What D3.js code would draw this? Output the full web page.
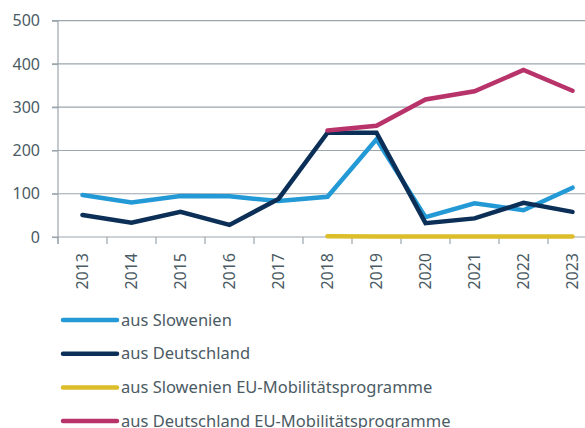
<!DOCTYPE html>
<html>
<head>
<meta charset="utf-8">
<script src="https://cdn.jsdelivr.net/npm/d3@7"></script>
<style>
  body { margin: 0; background: #fff; }
  svg { display: block; font-family: "Source Sans Pro", "Noto Sans", sans-serif; }
</style>
</head>
<body>
<div id="chart"></div>
<script>
// data
const years = ["2013", "2014", "2015", "2016", "2017", "2018", "2019", "2020", "2021", "2022", "2023"];
const ausSlowenien = [97, 80, 95, 94, 83, 93, 226, 46, 78, 62, 114];
const ausDeutschland = [51, 33, 58, 28, 88, 241, 241, 32, 43, 79, 58];
const ausSlowenienEU = [null, null, null, null, null, 2, 1, 1, 1, 1, 1];
const ausDeutschlandEU = [null, null, null, null, null, 246, 257, 318, 337, 386, 338];
const yTicks = [0, 100, 200, 300, 400, 500];

const seriesNames = ["aus Slowenien", "aus Deutschland", "aus Slowenien EU-Mobilitätsprogramme", "aus Deutschland EU-Mobilitätsprogramme"];
const seriesColors = ["#2399d6", "#0b2f57", "#dcbd2a", "#b9336b"];
const seriesValues = [ausSlowenien, ausDeutschland, ausSlowenienEU, ausDeutschlandEU];

const width = 585, height = 428;
const margin = {top: 20.7, left: 58};
const plotBottom = 237;

const svg = d3.select("#chart")
    .append("svg")
    .attr("width", width)
    .attr("height", height);

const x = d3.scaleBand()
    .domain(years)
    .range([margin.left, margin.left + 11 * 49]);

const y = d3.scaleLinear()
    .domain([0, 500])
    .range([plotBottom, margin.top]);

// grid lines
svg.append("g")
    .selectAll("line")
    .data(yTicks)
    .join("line")
    .attr("x1", margin.left - 6)
    .attr("x2", width)
    .attr("y1", d => y(d))
    .attr("y2", d => y(d))
    .attr("stroke", "#9ba6ad")
    .attr("stroke-width", 1.2);

// y axis
const yAxis = svg.append("g")
    .attr("transform", `translate(${margin.left}, 0)`)
    .call(d3.axisLeft(y).tickValues(yTicks).tickSize(6).tickPadding(12));
yAxis.select(".domain").attr("stroke", "#9ba6ad").attr("stroke-width", 1.2)
    .attr("d", `M0,${y(500)}V${plotBottom + 7}`);
yAxis.selectAll(".tick line").attr("stroke", "#9ba6ad").attr("stroke-width", 1.2);
yAxis.selectAll(".tick text")
    .attr("fill", "#4b5b64")
    .style("font-size", "16px")
    .style("font-family", "\"Noto Sans\", sans-serif");

// x axis
const xAxis = svg.append("g")
    .attr("transform", `translate(0, ${plotBottom})`)
    .call(d3.axisBottom(x).tickSize(0).tickPadding(0));
xAxis.select(".domain").remove();
xAxis.selectAll(".tick text")
    .attr("fill", "#4b5b64")
    .style("font-size", "16px")
    .style("font-family", "\"Noto Sans\", sans-serif")
    .attr("text-anchor", "end")
    .attr("transform", "rotate(-90)")
    .attr("x", -16)
    .attr("y", 0)
    .attr("dy", "0.35em");

// x tick marks at band edges
svg.append("g")
    .selectAll("line")
    .data(years)
    .join("line")
    .attr("x1", d => x(d))
    .attr("x2", d => x(d))
    .attr("y1", plotBottom)
    .attr("y2", plotBottom + 7)
    .attr("stroke", "#9ba6ad")
    .attr("stroke-width", 1.2);

// lines
const line = d3.line()
    .defined(d => d.v !== null)
    .x(d => x(d.year) + x.bandwidth() / 2)
    .y(d => y(d.v));

svg.append("g")
    .selectAll("path")
    .data(seriesValues)
    .join("path")
    .attr("d", vals => line(vals.map((v, i) => ({year: years[i], v: v}))))
    .attr("fill", "none")
    .attr("stroke", (d, i) => seriesColors[i])
    .attr("stroke-width", 4.5)
    .attr("stroke-linecap", "round")
    .attr("stroke-linejoin", "miter");

// legend
const legend = svg.append("g")
    .selectAll("g")
    .data(seriesNames)
    .join("g")
    .attr("transform", (d, i) => `translate(63, ${320 + i * 33.7})`);

legend.append("line")
    .attr("x1", 0)
    .attr("x2", 54)
    .attr("stroke", (d, i) => seriesColors[i])
    .attr("stroke-width", 4.5)
    .attr("stroke-linecap", "round");

legend.append("text")
    .attr("x", 58)
    .attr("dy", "0.35em")
    .attr("fill", "#4b5b64")
    .style("font-size", "16.5px")
    .style("font-family", "\"Noto Sans\", sans-serif")
    .text(d => d);
</script>
</body>
</html>
